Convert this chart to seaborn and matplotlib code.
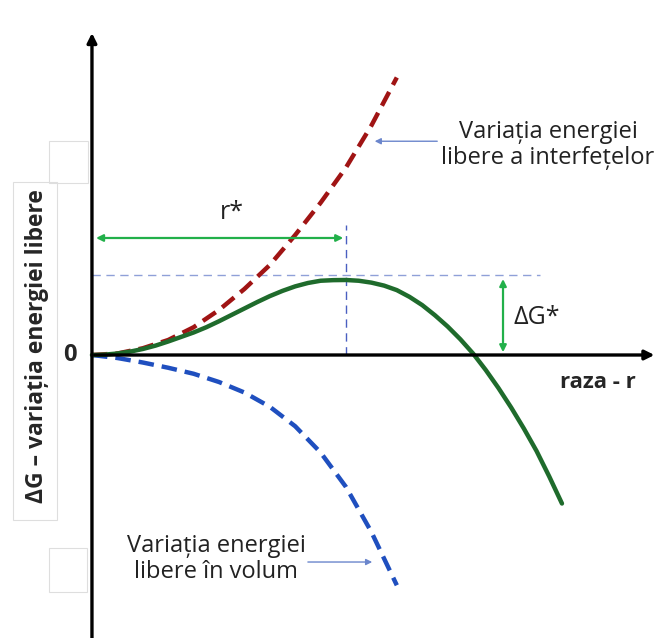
import matplotlib
matplotlib.use("Agg")
import matplotlib.pyplot as plt
import matplotlib.patches as patches
import seaborn as sns

sns.set_theme(style="white")
plt.rcParams['font.family'] = ['Open Sans', 'DejaVu Sans']

# curves (r in units of r*, G in units of dG*)
r_surface = [0, 0.1, 0.2, 0.3, 0.4, 0.5, 0.6, 0.7, 0.8, 0.9, 1.0, 1.1, 1.2]
g_surface = [0, 0.02, 0.09, 0.20, 0.37, 0.60, 0.88, 1.20, 1.60, 2.03, 2.50, 3.06, 3.70]

r_volume = [0, 0.1, 0.2, 0.3, 0.4, 0.5, 0.6, 0.7, 0.8, 0.9, 1.0, 1.1, 1.2]
g_volume = [0, -0.04, -0.10, -0.17, -0.25, -0.36, -0.50, -0.69, -0.95, -1.30, -1.76, -2.36, -3.07]

r_total = [0, 0.05, 0.1, 0.15, 0.2, 0.25, 0.3, 0.35, 0.4, 0.45, 0.5, 0.55, 0.6, 0.65,
           0.7, 0.75, 0.8, 0.85, 0.9, 0.95, 1.0, 1.05, 1.1, 1.15, 1.2, 1.25, 1.3, 1.35,
           1.4, 1.45, 1.5, 1.55, 1.6, 1.65, 1.7, 1.75, 1.8, 1.85]
g_total = [0, 0.005, 0.02, 0.045, 0.08, 0.125, 0.18, 0.24, 0.30, 0.37, 0.45, 0.535, 0.62,
           0.705, 0.785, 0.855, 0.915, 0.96, 0.99, 0.998, 1.0, 0.99, 0.965, 0.925, 0.865,
           0.775, 0.665, 0.53, 0.38, 0.21, 0.02, -0.20, -0.44, -0.70, -0.98, -1.28, -1.62,
           -1.98]

r_star = 1.0
dg_star = 1.0

label_surface = "Variația energiei\nlibere a interfețelor"
label_volume = "Variația energiei\nlibere în volum"
ylabel = "ΔG – variația energiei libere"
xlabel = "raza - r"

fig = plt.figure(figsize=(6.59, 6.38), dpi=100)
ax = fig.add_axes([0, 0, 1, 1])
ax.set_xlim(-0.362, 2.232)
ax.set_ylim(-3.773, 4.733)
ax.axis("off")

# faint boxes left over from the slide
def px_rect(x0, y0, x1, y1):
    fig.patches.append(patches.Rectangle((x0 / 659, 1 - y1 / 638), (x1 - x0) / 659,
                                         (y1 - y0) / 638, transform=fig.transFigure,
                                         fill=False, edgecolor="#dedede", linewidth=0.8))
px_rect(13, 182, 57, 520)
px_rect(49, 141, 88, 183)
px_rect(49, 548, 87, 592)

# axes with arrows
ax.annotate("", xy=(0, 4.33), xytext=(0, -3.9),
            arrowprops=dict(arrowstyle="-|>", color="black", lw=2.4, mutation_scale=14))
ax.annotate("", xy=(2.225, 0), xytext=(0, 0),
            arrowprops=dict(arrowstyle="-|>", color="black", lw=2.4, mutation_scale=14))

# guide lines
ax.plot([0, 1.764], [1.07, 1.07], color="#8fa0d8", lw=1, ls=(0, (6, 4)))
ax.plot([r_star, r_star], [0, 1.73], color="#4a5fc1", lw=1, ls=(0, (6, 4)))

# curves
sns.lineplot(x=r_surface, y=g_surface, ax=ax, color="#a01414", linewidth=3.2, sort=False)
ax.lines[-1].set_dashes((3.5, 1.8))
sns.lineplot(x=r_volume, y=g_volume, ax=ax, color="#1f4fbf", linewidth=3.2, sort=False)
ax.lines[-1].set_dashes((3.5, 1.8))
sns.lineplot(x=r_total, y=g_total, ax=ax, color="#1f6b2c", linewidth=3.2, sort=False)
for ln in ax.lines[-3:]:
    ln.set_solid_joinstyle("round")
    ln.set_dash_joinstyle("round")

# r* and dG* markers
ax.annotate("", xy=(0.005, 1.56), xytext=(r_star, 1.56),
            arrowprops=dict(arrowstyle="<|-|>", color="#22b04a", lw=1.6, mutation_scale=10))
ax.text(0.55, 1.90, "r*", fontsize=18, ha="center", va="center", color="#222222")
ax.annotate("", xy=(1.618, dg_star + 0.05), xytext=(1.618, 0.0),
            arrowprops=dict(arrowstyle="<|-|>", color="#22b04a", lw=1.6, mutation_scale=10))
ax.text(1.66, 0.50, "ΔG*", fontsize=18, ha="left", va="center", color="#222222")

# pointer labels
ax.text(1.795, 2.8, label_surface, fontsize=17, ha="center", va="center",
        color="#222222", linespacing=1.1)
ax.annotate("", xy=(1.102, 2.85), xytext=(1.37, 2.85),
            arrowprops=dict(arrowstyle="-|>", color="#6b86cc", lw=1, mutation_scale=9))
ax.text(0.488, -2.72, label_volume, fontsize=17, ha="center", va="center",
        color="#222222", linespacing=1.1)
ax.annotate("", xy=(1.114, -2.76), xytext=(0.839, -2.76),
            arrowprops=dict(arrowstyle="-|>", color="#6b86cc", lw=1, mutation_scale=9))

# axis labels
ax.text(-0.085, 0, "0", fontsize=17, fontweight="bold", ha="center", va="center")
ax.text(1.99, -0.37, xlabel, fontsize=16, fontweight="bold", ha="center", va="center")
ax.text(-0.215, 0.12, ylabel, fontsize=16.5, fontweight="bold", ha="center", va="center",
        rotation=90)

fig.savefig("out.png", dpi=100)
